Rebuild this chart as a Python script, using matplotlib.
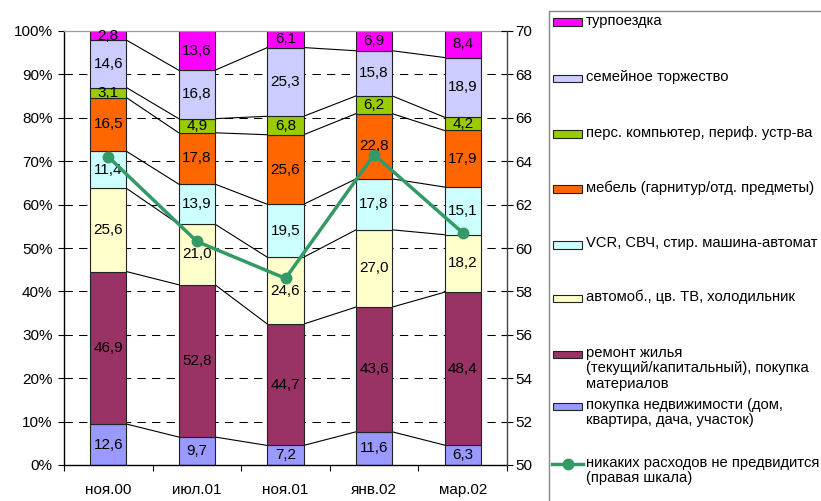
import numpy as np
import matplotlib
matplotlib.use("Agg")
import matplotlib.pyplot as plt
from matplotlib.patches import Rectangle
from matplotlib.lines import Line2D

plt.rcParams['font.family'] = ['Liberation Sans', 'DejaVu Sans']

categories = ["ноя.00", "июл.01", "ноя.01", "янв.02", "мар.02"]

# stacked from bottom to top
series_names = [
    "покупка недвижимости (дом,\nквартира, дача, участок)",
    "ремонт жилья\n(текущий/капитальный), покупка\nматериалов",
    "автомоб., цв. ТВ, холодильник",
    "VCR, СВЧ, стир. машина-автомат",
    "мебель (гарнитур/отд. предметы)",
    "перс. компьютер, периф. устр-ва",
    "семейное торжество",
    "турпоездка",
]
nedvizh = [12.6, 9.7, 7.2, 11.6, 6.3]
remont = [46.9, 52.8, 44.7, 43.6, 48.4]
avto_tv = [25.6, 21.0, 24.6, 27.0, 18.2]
vcr = [11.4, 13.9, 19.5, 17.8, 15.1]
mebel = [16.5, 17.8, 25.6, 22.8, 17.9]
pc = [3.1, 4.9, 6.8, 6.2, 4.2]
torzh = [14.6, 16.8, 25.3, 15.8, 18.9]
tur = [2.8, 13.6, 6.1, 6.9, 8.4]

no_spending = [64.2, 60.3, 58.6, 64.3, 60.7]
no_spending_name = "никаких расходов не предвидится\n(правая шкала)"

colors = ["#9999FF", "#993366", "#FFFFCC", "#CCFFFF", "#FF6600",
          "#99CC00", "#CCCCFF", "#FF00FF"]
line_color = "#339966"

W, H = 821, 501
fig = plt.figure(figsize=(W / 100, H / 100), dpi=100)
ax = fig.add_axes([64 / W, (H - 465) / H, (507 - 64) / W, (465 - 31) / H])

data = np.array([nedvizh, remont, avto_tv, vcr, mebel, pc, torzh, tur])
totals = data.sum(axis=0)
pct = data / totals * 100
cum = np.cumsum(pct, axis=0)
bottoms = cum - pct

x = np.arange(len(categories))
bw = 0.41

# horizontal dashed grid
for g in range(10, 100, 10):
    ax.axhline(g, color="black", lw=0.75, ls=(0, (8, 6)), zorder=0.5)

for k in range(len(series_names)):
    ax.bar(x, pct[k], bw, bottom=bottoms[k], color=colors[k],
           edgecolor="#222222", linewidth=0.8, zorder=2)
    for i in range(len(x)):
        ax.text(x[i], bottoms[k][i] + pct[k][i] / 2, f"{data[k][i]:.1f}".replace(".", ","),
                ha="center", va="center", fontsize=11, color="black", zorder=3)

# series lines between neighbouring bars
for k in range(len(series_names) - 1):
    for i in range(len(x) - 1):
        ax.plot([x[i] + bw / 2, x[i + 1] - bw / 2], [cum[k][i], cum[k][i + 1]],
                color="black", lw=0.8, zorder=1)

ax.set_xlim(-0.5, len(x) - 0.5)
ax.set_ylim(0, 100)
ax.set_yticks(np.arange(0, 101, 10))
ax.set_yticklabels([f"{v}%" for v in range(0, 101, 10)], fontsize=11)
ax.tick_params(axis="y", direction="out", length=4.3, width=0.8, pad=4)
ax.set_xticks(x)
ax.set_xticklabels(categories, fontsize=11)
ax.set_xticks(np.arange(-0.5, len(x), 1), minor=True)
ax.tick_params(axis="x", which="major", length=0, pad=13)
ax.tick_params(axis="x", which="minor", direction="out", length=4, width=0.8)

for s in ["left", "bottom"]:
    ax.spines[s].set_color("black")
    ax.spines[s].set_linewidth(1.0)
ax.spines["top"].set_color("#999999")
ax.spines["top"].set_linewidth(0.9)
ax.spines["right"].set_visible(False)

ax2 = ax.twinx()
ax2.set_ylim(50, 70)
ax2.set_yticks(np.arange(50, 71, 2))
ax2.set_yticklabels([str(v) for v in range(50, 71, 2)], fontsize=11)
ax2.tick_params(axis="y", direction="inout", length=8.5, width=0.8, pad=2, colors="black")
ax2.spines["right"].set_color("#444444")
ax2.spines["right"].set_linewidth(1.0)
for s in ["left", "top", "bottom"]:
    ax2.spines[s].set_visible(False)
ax2.plot(x, no_spending, color=line_color, lw=2.5, marker="o", markersize=7.5,
         zorder=5)
ax.set_zorder(1)
ax2.set_zorder(2)
ax2.patch.set_visible(False)

# legend box
def fx(px):
    return px / W


def fy(py):
    return (H - py) / H


fig.patches.append(Rectangle((fx(549), fy(510)), fx(830) - fx(549), fy(11) - fy(510),
                             transform=fig.transFigure, fill=False,
                             edgecolor="#888888", lw=1.0, clip_on=False))

legend_y = [406, 354, 298, 245, 189, 134, 78, 22]
for k in range(len(series_names)):
    y = legend_y[k]
    fig.patches.append(Rectangle((fx(553), fy(y + 3.5)), fx(582) - fx(553), fy(y - 3.5) - fy(y + 3.5),
                                 transform=fig.transFigure, facecolor=colors[k],
                                 edgecolor="#222222", lw=0.8))
    fig.text(fx(586), fy(y - 8.5), series_names[k], fontsize=10.6, ha="left", va="top",
             linespacing=1.15)

ly = 464
fig.lines.append(Line2D([fx(552), fx(583)], [fy(ly), fy(ly)], transform=fig.transFigure,
                        color=line_color, lw=2.5))
fig.lines.append(Line2D([fx(567.5)], [fy(ly)], transform=fig.transFigure,
                        color=line_color, marker="o", markersize=7.5))
fig.text(fx(586), fy(ly - 8.5), no_spending_name, fontsize=10.6, ha="left", va="top",
         linespacing=1.15)

fig.savefig("out.png", dpi=100)
